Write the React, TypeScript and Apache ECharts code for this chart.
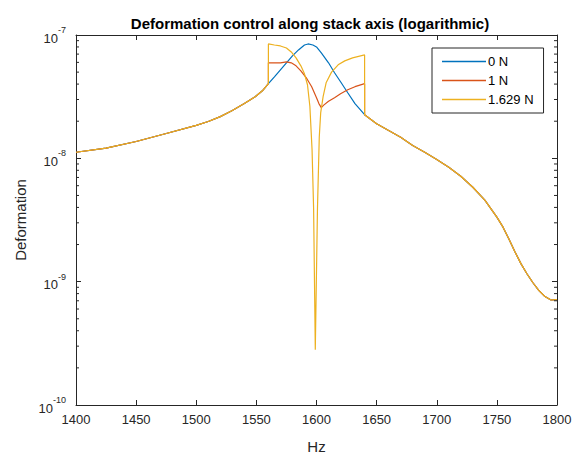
import React, { useEffect, useRef } from "react";
import * as echarts from "echarts";

// Shared part of all curves (below 1560 Hz and above 1640 Hz)
const leftHz = [1400, 1425, 1450, 1475, 1500, 1510, 1520, 1530, 1540, 1549, 1555, 1560];
const leftVal = [1.12e-8, 1.21e-8, 1.37e-8, 1.59e-8, 1.85e-8, 1.99e-8, 2.18e-8, 2.44e-8, 2.78e-8, 3.16e-8, 3.53e-8, 4.03e-8];
const rightHz = [1640, 1650, 1660, 1670, 1680, 1690, 1700, 1710, 1720, 1730, 1740, 1750, 1755, 1760, 1765, 1770, 1775, 1780, 1785, 1790, 1795, 1800];
const rightVal = [2.26e-8, 1.91e-8, 1.68e-8, 1.48e-8, 1.27e-8, 1.12e-8, 9.8e-9, 8.46e-9, 7.16e-9, 5.83e-9, 4.58e-9, 3.34e-9, 2.78e-9, 2.22e-9, 1.75e-9, 1.4e-9, 1.16e-9, 9.8e-10, 8.46e-10, 7.57e-10, 7.1e-10, 7.16e-10];

// 0 N (middle band)
const blueHz = [1565, 1570, 1575, 1580, 1585, 1590, 1593, 1597, 1600, 1604, 1610, 1615, 1620, 1626, 1632];
const blueVal = [4.58e-8, 5.22e-8, 5.95e-8, 6.77e-8, 7.57e-8, 8.3e-8, 8.46e-8, 8.3e-8, 8.0e-8, 7.16e-8, 5.95e-8, 4.94e-8, 4.18e-8, 3.4e-8, 2.78e-8];

// 1 N (middle band)
const redHz = [1560, 1570, 1575, 1579, 1583, 1587, 1592, 1596, 1600, 1602, 1604, 1606, 1610, 1615, 1620, 1626, 1632, 1640];
const redVal = [5.95e-8, 5.95e-8, 6.06e-8, 5.95e-8, 5.62e-8, 5.12e-8, 4.42e-8, 3.81e-8, 3.1e-8, 2.78e-8, 2.58e-8, 2.7e-8, 2.9e-8, 3.1e-8, 3.34e-8, 3.6e-8, 3.81e-8, 4.03e-8];

// 1.629 N (middle band)
const yellowHz = [1560, 1565, 1570, 1575, 1579, 1583, 1587, 1590, 1592.5, 1594.5, 1596.3, 1597.6, 1599, 1600.8, 1602.3, 1603.5, 1605.5, 1608, 1612.5, 1618, 1623.5, 1630, 1640];
const yellowVal = [8.46e-8, 8.3e-8, 8.15e-8, 7.85e-8, 7.29e-8, 6.53e-8, 5.62e-8, 4.84e-8, 3.95e-8, 2.63e-8, 1.18e-8, 3.88e-9, 2.8e-10, 3.88e-9, 1.48e-8, 2.35e-8, 3.16e-8, 4.1e-8, 5.0e-8, 5.73e-8, 6.17e-8, 6.53e-8, 6.9e-8];

const seriesNames = ["0 N", "1 N", "1.629 N"];
const seriesColors = ["#0072BD", "#D95319", "#EDB120"];

const xTicks = [1400, 1450, 1500, 1550, 1600, 1650, 1700, 1750, 1800];
const yDecades = [-10, -9, -8, -7];

const zip = (hz: number[], v: number[]) => hz.map((h, i) => [h, v[i]]);

const AXIS = "#262626";
const FONT = "'Liberation Sans', Arial, Helvetica, sans-serif";

export default function App() {
  const ref = useRef<HTMLDivElement>(null);

  useEffect(() => {
    if (!ref.current) return;
    const chart = echarts.init(ref.current, undefined, { renderer: "svg" });

    const left = zip(leftHz, leftVal);
    const right = zip(rightHz, rightVal);
    const mids = [zip(blueHz, blueVal), zip(redHz, redVal), zip(yellowHz, yellowVal)];

    const minorVals: number[][] = [];
    for (let d = yDecades[0]; d < yDecades[yDecades.length - 1]; d++) {
      for (let k = 2; k <= 9; k++) minorVals.push([xTicks[0], k * Math.pow(10, d)]);
    }

    const yMin = Math.pow(10, yDecades[0]);
    const yMax = Math.pow(10, yDecades[yDecades.length - 1]);

    const xBase = {
      type: "value",
      min: xTicks[0],
      max: xTicks[xTicks.length - 1],
      interval: 50,
      splitLine: { show: false },
      axisLine: { onZero: false, lineStyle: { color: AXIS, width: 1 } },
      axisTick: { inside: true, length: 5, lineStyle: { color: AXIS } },
    };
    const yBase = {
      type: "log",
      logBase: 10,
      min: yMin,
      max: yMax,
      splitNumber: 3,
      splitLine: { show: false },
      axisLine: { lineStyle: { color: AXIS, width: 1 } },
      axisTick: { inside: true, length: 5, lineStyle: { color: AXIS } },
    };

    const option: any = {
      animation: false,
      backgroundColor: "#fff",
      title: {
        text: "Deformation control along stack axis (logarithmic)",
        left: 305,
        textAlign: "center",
        top: 11,
        textStyle: { fontFamily: FONT, fontSize: 15, fontWeight: "bold", color: "#000" },
      },
      grid: { left: 76, right: 24, top: 35, bottom: 52, containLabel: false },
      legend: {
        data: seriesNames,
        icon: "rect",
        orient: "vertical",
        left: 432,
        top: 48,
        padding: [7, 10, 7, 10],
        itemGap: 6,
        itemWidth: 44,
        itemHeight: 1.5,
        borderColor: AXIS,
        borderWidth: 1,
        borderRadius: 0,
        backgroundColor: "#fff",
        textStyle: { fontFamily: FONT, fontSize: 13, color: "#000", padding: [0, 0, 0, -3] },
      },
      xAxis: [
        {
          ...xBase,
          position: "bottom",
          name: "Hz",
          nameLocation: "middle",
          nameGap: 34,
          nameTextStyle: { fontFamily: FONT, fontSize: 15, color: AXIS },
          axisLabel: { fontFamily: FONT, fontSize: 13, color: AXIS, margin: 8, formatter: (v: number) => String(v) },
        },
        { ...xBase, position: "top", axisLabel: { show: false } },
      ],
      yAxis: [
        {
          ...yBase,
          position: "left",
          name: "Deformation",
          nameLocation: "middle",
          nameGap: 46,
          nameRotate: 90,
          nameTextStyle: { fontFamily: FONT, fontSize: 15, color: AXIS },
          axisLabel: {
            margin: 10,
            formatter: (v: number) => `{b|10}{s|${Math.round(Math.log10(v))}}`,
            rich: {
              b: { fontFamily: FONT, fontSize: 13, color: AXIS, lineHeight: 19, verticalAlign: "bottom" },
              s: { fontFamily: FONT, fontSize: 9, color: AXIS, verticalAlign: "top" },
            },
          },
        },
        { ...yBase, position: "right", axisLabel: { show: false } },
      ],
      series: [
        ...seriesNames.map((name, i) => ({
          name,
          type: "line",
          xAxisIndex: 0,
          yAxisIndex: 0,
          data: [...left, ...mids[i], ...right],
          symbol: "none",
          showSymbol: false,
          smooth: false,
          color: seriesColors[i],
          itemStyle: { color: seriesColors[i] },
          lineStyle: { color: seriesColors[i], width: 1.2 },
          z: 3 + i,
        })),
        {
          name: "minorTicks",
          type: "custom",
          xAxisIndex: 0,
          yAxisIndex: 0,
          silent: true,
          data: minorVals,
          z: 10,
          renderItem: (params: any, api: any) => {
            const pt = api.coord([api.value(0), api.value(1)]);
            const cs = params.coordSys;
            const y = pt[1];
            return {
              type: "group",
              children: [
                { type: "line", shape: { x1: cs.x, y1: y, x2: cs.x + 3, y2: y }, style: { stroke: AXIS, lineWidth: 1 } },
                { type: "line", shape: { x1: cs.x + cs.width, y1: y, x2: cs.x + cs.width - 3, y2: y }, style: { stroke: AXIS, lineWidth: 1 } },
              ],
            };
          },
        },
      ],
    };

    chart.setOption(option);
    return () => chart.dispose();
  }, []);

  return (
    <div
      ref={ref}
      style={{ position: "absolute", left: 0, top: 0, width: 581, height: 459, background: "#fff" }}
    />
  );
}
